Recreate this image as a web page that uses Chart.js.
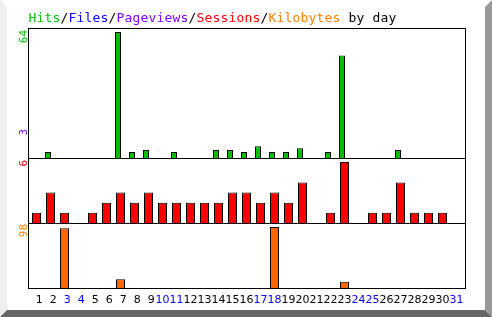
<!DOCTYPE html>
<html>
<head>
<meta charset="utf-8">
<script src="https://cdn.jsdelivr.net/npm/chart.js@4.4.1/dist/chart.umd.min.js"></script>
<style>
html,body{margin:0;padding:0;background:#ffffff;}
canvas{display:block;}
</style>
</head>
<body>
<canvas id="c" width="492" height="317"></canvas>
<script>
// ---- data ----
const days = ['1','2','3','4','5','6','7','8','9','10','11','12','13','14','15','16','17','18','19','20','21','22','23','24','25','26','27','28','29','30','31'];
const weekendDays = ['3','4','10','11','17','18','24','25','31'];
const hitsPerDay     = [0,3,0,0,0,0,64,3,4,0,3,0,0,4,4,3,6,3,3,5,0,3,52,0,0,0,4,0,0,0,0];
const filesPerDay    = [0,0,0,0,0,0,0,0,0,0,0,0,0,0,0,0,0,0,0,0,0,0,0,0,0,0,0,0,0,0,0];
const sessionsPerDay = [1,3,1,0,1,2,3,2,3,2,2,2,2,2,3,3,2,3,2,4,0,1,6,0,1,1,4,1,1,1,0];
const kbytesPerDay   = [0,0,96,0,0,0,14,0,0,0,0,0,0,0,0,0,0,98,0,0,0,0,10,0,0,0,0,0,0,0,0];
const hitsMaxLabel = '64';
const pagesMaxLabel = '3';
const sessionsMaxLabel = '6';
const kbytesMaxLabel = '98';
const titleWords = ['Hits','/','Files','/','Pageviews','/','Sessions','/','Kilobytes',' by day'];

// ---- colours ----
const C = {
  hits:'#00c000', files:'#0000ff', pages:'#8000ff', sessions:'#ff0000',
  kbytesBar:'#ff6600', kbytesText:'#ff8000', black:'#000000', weekend:'#0000ff'
};
const titleColors = [C.hits,C.black,C.files,C.black,C.pages,C.black,C.sessions,C.black,C.kbytesText,C.black];

const backgroundPlugin = {
  id:'bg',
  beforeDraw(chart){
    const ctx = chart.ctx;
    const W = chart.width, H = chart.height;
    ctx.save();
    ctx.fillStyle = '#ffffff';
    ctx.fillRect(0,0,W,H);
    // left light bevel
    ctx.fillStyle = '#efefef';
    ctx.beginPath(); ctx.moveTo(0,0); ctx.lineTo(7,7); ctx.lineTo(7,H-7); ctx.lineTo(0,H); ctx.closePath(); ctx.fill();
    // right shadow
    ctx.fillStyle = '#999999';
    ctx.beginPath(); ctx.moveTo(W,0); ctx.lineTo(W-7,7); ctx.lineTo(W-7,H-7); ctx.lineTo(W,H); ctx.closePath(); ctx.fill();
    // bottom shadow
    ctx.fillStyle = '#666666';
    ctx.beginPath(); ctx.moveTo(0,H); ctx.lineTo(7,H-7); ctx.lineTo(W-7,H-7); ctx.lineTo(W,H); ctx.closePath(); ctx.fill();
    ctx.restore();
  }
};

const framePlugin = {
  id:'frame',
  afterDatasetsDraw(chart){
    const ctx = chart.ctx;
    const a = chart.chartArea;
    const L = a.left - 1, R = a.right + 2;
    ctx.save();
    ctx.strokeStyle = '#000000';
    ctx.lineWidth = 1;
    ctx.beginPath();
    ctx.moveTo(L, a.top - 0.5); ctx.lineTo(R, a.top - 0.5);
    ctx.moveTo(L, a.bottom + 0.5); ctx.lineTo(R, a.bottom + 0.5);
    ctx.moveTo(L, chart.scales.yHits.bottom + 0.5); ctx.lineTo(R, chart.scales.yHits.bottom + 0.5);
    ctx.moveTo(L, chart.scales.ySessions.bottom + 0.5); ctx.lineTo(R, chart.scales.ySessions.bottom + 0.5);
    ctx.moveTo(L, a.top - 1); ctx.lineTo(L, a.bottom + 1);
    ctx.moveTo(R, a.top - 1); ctx.lineTo(R, a.bottom + 1);
    ctx.stroke();

    // title
    ctx.font = '13px "DejaVu Sans Mono", monospace';
    ctx.textBaseline = 'alphabetic';
    ctx.textAlign = 'left';
    let col = 0;
    titleWords.forEach((w,i)=>{
      ctx.fillStyle = titleColors[i];
      for (const ch of w){ ctx.fillText(ch, L + 8*col, 22); col++; }
    });

    // vertical max labels
    ctx.font = '11px "DejaVu Sans Mono", monospace';
    const up = (txt, color, topY) => {
      ctx.save();
      ctx.translate(27, topY);
      ctx.rotate(-Math.PI/2);
      ctx.textAlign = 'right';
      ctx.textBaseline = 'alphabetic';
      ctx.fillStyle = color;
      ctx.fillText(txt, 0, 0);
      ctx.restore();
    };
    up(hitsMaxLabel, C.hits, a.top + 1);
    up(pagesMaxLabel, C.pages, a.top + 100);
    up(sessionsMaxLabel, C.sessions, chart.scales.ySessions.top + 2);
    up(kbytesMaxLabel, C.kbytesText, chart.scales.yKbytes.top + 1);
    ctx.restore();
  }
};

const hiddenY = (weight, stackWeight, max) => ({
  type:'linear', display:false, position:'left', stack:'panels', stackWeight:stackWeight,
  weight:weight, min:0, max:max,
  grid:{display:false, drawTicks:false}, ticks:{display:false}, border:{display:false}
});

new Chart(document.getElementById('c'), {
  type:'bar',
  data:{
    labels: days,
    datasets:[
      {label:'Hits', data:hitsPerDay, yAxisID:'yHits', backgroundColor:C.hits, borderColor:C.black, borderWidth:1,
       grouped:true, categoryPercentage:0.714, barPercentage:1.2},
      {label:'Files', data:filesPerDay, yAxisID:'yHits', backgroundColor:C.files, borderColor:C.black, borderWidth:0,
       grouped:true, categoryPercentage:0.714, barPercentage:1.2},
      {label:'Sessions', data:sessionsPerDay, yAxisID:'ySessions', backgroundColor:C.sessions, borderColor:C.black, borderWidth:1,
       grouped:false, maxBarThickness:9},
      {label:'Kilobytes', data:kbytesPerDay, yAxisID:'yKbytes', backgroundColor:C.kbytesBar, borderColor:C.black, borderWidth:1,
       grouped:false, maxBarThickness:9}
    ]
  },
  options:{
    responsive:false,
    devicePixelRatio:1,
    animation:false,
    events:[],
    layout:{padding:{left:29.5, right:28.5, top:29, bottom:0}},
    plugins:{legend:{display:false}, title:{display:false}, tooltip:{enabled:false}},
    scales:{
      x:{
        type:'category', position:'bottom',
        grid:{display:false, drawTicks:false}, border:{display:false},
        afterFit(scale){ scale.height = 29; },
        ticks:{
          autoSkip:false, maxRotation:0, minRotation:0, padding:6,
          font:{family:'"DejaVu Sans", sans-serif', size:11},
          color:(ctx)=> weekendDays.includes(days[ctx.index]) ? C.weekend : C.black,
          callback:(value, index)=> days[index].length === 1 ? '\u2002' + days[index] : days[index]
        }
      },
      yHits: hiddenY(3, 129, 65.5),
      ySessions: hiddenY(2, 65, 6.4),
      yKbytes: hiddenY(1, 65, 104.4)
    }
  },
  plugins:[backgroundPlugin, framePlugin]
});
</script>
</body>
</html>
